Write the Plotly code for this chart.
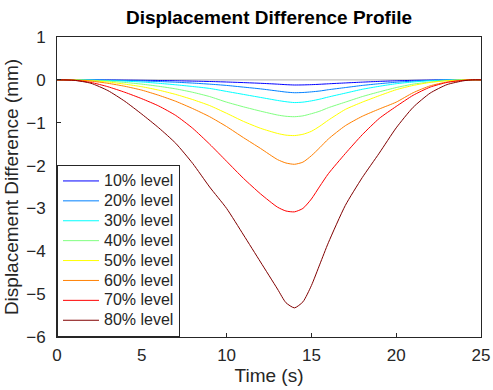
import plotly.graph_objects as go

time_s = [0, 1, 2, 3, 4, 5, 6, 7, 8, 9, 10, 11, 12, 13, 13.5, 14, 14.5, 15, 15.5,
          16, 17, 18, 19, 20, 21, 22, 23, 24, 24.5, 25]

level_names = ["10% level", "20% level", "30% level", "40% level",
               "50% level", "60% level", "70% level", "80% level"]

lvl10 = [0, 0, 0, -0.003, -0.006, -0.01, -0.015, -0.021, -0.029, -0.038, -0.05, -0.064,
         -0.08, -0.1, -0.112, -0.12, -0.118, -0.112, -0.103, -0.092, -0.072, -0.053, -0.036,
         -0.022, -0.012, -0.005, -0.001, 0, 0, 0]
lvl20 = [0, 0, -0.002, -0.007, -0.015, -0.025, -0.038, -0.055, -0.075, -0.1, -0.13, -0.17,
         -0.21, -0.26, -0.285, -0.3, -0.295, -0.28, -0.26, -0.23, -0.18, -0.13, -0.09, -0.055,
         -0.03, -0.012, -0.003, 0, 0, 0]
lvl30 = [0, 0, -0.005, -0.015, -0.03, -0.05, -0.08, -0.115, -0.155, -0.2, -0.27, -0.34,
         -0.41, -0.48, -0.51, -0.53, -0.52, -0.49, -0.45, -0.4, -0.31, -0.22, -0.15, -0.09,
         -0.05, -0.02, -0.005, 0, 0, 0]
lvl40 = [0, 0, -0.01, -0.03, -0.06, -0.1, -0.15, -0.21, -0.29, -0.39, -0.52, -0.63, -0.73,
         -0.82, -0.85, -0.86, -0.84, -0.79, -0.73, -0.65, -0.52, -0.39, -0.28, -0.18, -0.1,
         -0.05, -0.015, 0, 0, 0]
lvl50 = [0, -0.003, -0.02, -0.05, -0.1, -0.16, -0.24, -0.34, -0.46, -0.6, -0.78, -0.97,
         -1.13, -1.25, -1.29, -1.30, -1.27, -1.2, -1.08, -0.94, -0.69, -0.52, -0.37, -0.23,
         -0.13, -0.06, -0.02, 0, 0, 0]
lvl60 = [0, -0.005, -0.03, -0.08, -0.15, -0.24, -0.36, -0.5, -0.67, -0.86, -1.09, -1.35,
         -1.6, -1.86, -1.94, -1.97, -1.92, -1.77, -1.58, -1.38, -1.07, -0.85, -0.68, -0.52,
         -0.3, -0.14, -0.05, -0.01, 0, 0]
lvl70 = [0, -0.01, -0.06, -0.16, -0.29, -0.44, -0.61, -0.83, -1.13, -1.5, -1.9, -2.3, -2.66,
         -2.97, -3.06, -3.08, -3.0, -2.78, -2.48, -2.19, -1.72, -1.28, -0.9, -0.62, -0.36,
         -0.17, -0.06, -0.01, 0, 0]
lvl80 = [0, -0.01, -0.08, -0.25, -0.5, -0.8, -1.12, -1.48, -1.95, -2.5, -3.0, -3.62, -4.25,
         -4.88, -5.2, -5.32, -5.18, -4.8, -4.3, -3.8, -2.93, -2.28, -1.71, -1.12, -0.64,
         -0.31, -0.11, -0.02, 0, 0]

series = [lvl10, lvl20, lvl30, lvl40, lvl50, lvl60, lvl70, lvl80]
colors = ["rgb(0,0,255)", "rgb(0,128,255)", "rgb(0,255,255)", "rgb(128,255,128)",
          "rgb(255,255,0)", "rgb(255,128,0)", "rgb(255,0,0)", "rgb(128,0,0)"]

baseline_x = [0, 25]
baseline_y = [0, 0]

x_ticks = [0, 5, 10, 15, 20, 25]
y_ticks = [-6, -5, -4, -3, -2, -1, 0, 1]

fig = go.Figure()
fig.add_trace(go.Scatter(x=baseline_x, y=baseline_y, mode="lines",
                         line=dict(color="rgb(190,190,190)", width=1.2),
                         showlegend=False, hoverinfo="skip"))
for name, vals, col in zip(level_names, series, colors):
    fig.add_trace(go.Scatter(x=time_s, y=vals, mode="lines",
                             name='<span style="font-size:16px">' + name + '</span>',
                             line=dict(color=col, width=1, shape="spline", smoothing=0.6)))

font_family = "Liberation Sans, Arial, Helvetica, sans-serif"
axis_common = dict(showline=True, linecolor="#262626", linewidth=1, mirror=True,
                   ticks="inside", ticklen=4, tickcolor="#262626", showgrid=False,
                   zeroline=False, automargin=False,
                   tickfont=dict(size=17, color="#262626", family=font_family))

fig.update_layout(
    width=493, height=390,
    margin=dict(l=57, r=12, t=37, b=53),
    paper_bgcolor="white", plot_bgcolor="white",
    font=dict(family=font_family, color="#262626"),
    title=dict(text="<b>Displacement Difference Profile</b>", x=0.5, xanchor="center",
               xref="paper", y=0.955, yanchor="middle",
               font=dict(size=19, color="black", family=font_family)),
    xaxis=dict(range=[0, 25], tickvals=x_ticks, ticklabelstandoff=3,
               title=dict(text="Time (s)", standoff=2, font=dict(size=19, family=font_family)),
               **axis_common),
    yaxis=dict(range=[-6, 1], tickvals=y_ticks, ticklabelstandoff=7,
               title=dict(text="Displacement Difference (mm)", standoff=2,
                          font=dict(size=19, family=font_family)),
               **axis_common),
    legend=dict(x=0, y=0, xanchor="left", yanchor="bottom", bgcolor="white",
                bordercolor="#262626", borderwidth=1, tracegroupgap=0,
                font=dict(size=13, color="#262626", family=font_family),
                itemwidth=36),
)

fig.write_html("out.html")
